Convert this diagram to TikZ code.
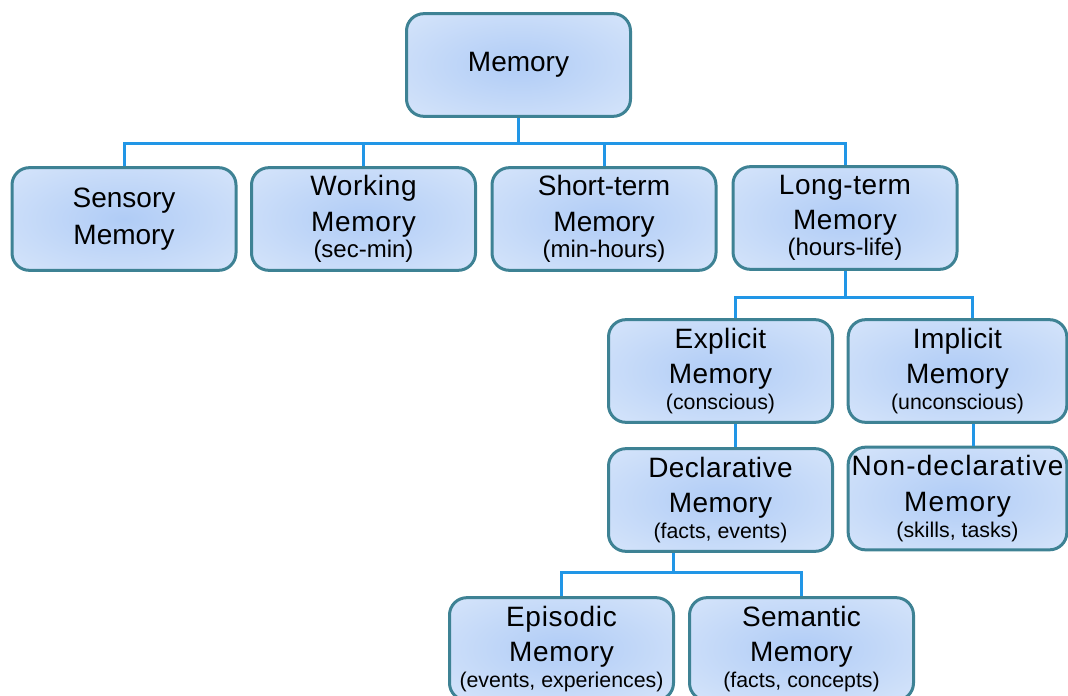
\documentclass[tikz,border=0pt]{standalone}
\usepackage{fontspec}
\setmainfont{Liberation Sans}
\usepackage{xcolor}

\definecolor{memoin}{RGB}{176,204,246}
\definecolor{memoout}{RGB}{228,238,252}
\definecolor{memoedge}{RGB}{62,130,148}
\definecolor{linkblue}{RGB}{33,150,230}
\pgfdeclareradialshading{memoshade}{\pgfpoint{0bp}{0bp}}{color(0bp)=(memoin); color(50bp)=(memoout); color(72bp)=(memoout)}
\newcommand{\subnote}[2][16]{{\fontsize{#1}{19.5}\selectfont\addfontfeature{LetterSpace=0}#2}}

\begin{document}
\begin{tikzpicture}[x=0.75pt, y=-0.75pt,
  memobox/.style={draw=memoedge, line width=2.25pt, rounded corners=13pt, shading=memoshade,
    minimum width=168pt, minimum height=77pt, align=center, inner sep=2pt,
    font=\fontsize{21}{26.5}\selectfont},
  spread/.style={font=\fontsize{21}{26.5}\selectfont\addfontfeature{LetterSpace=#1}},
  memolink/.style={draw=linkblue, line width=2.25pt}
]
  \useasboundingbox (0,0) rectangle (1068,696);

  \node[memobox] (memory) at (518.5,65) {Memory};

  \node[memobox] (sensory) at (124,219) {Sensory\\[1pt]Memory};
  \node[memobox, spread=2.5] (working) at (363.5,219) {Working\\Memory\\[-7pt]\subnote[18]{(sec-min)}};
  \node[memobox] (shortterm) at (604,219) {Short-term\\Memory\\[-7pt]\subnote[18]{(min-hours)}};
  \node[memobox, spread=2] (longterm) at (845,218) {Long-term\\Memory\\[-7pt]\subnote[18]{(hours-life)}};

  \node[memobox, spread=1.5] (explicit) at (720.5,371) {Explicit\\Memory\\[-7pt]\subnote{(conscious)}};
  \node[memobox, minimum width=164pt, spread=1] (implicit) at (957.5,371) {Implicit\\Memory\\[-7pt]\subnote{(unconscious)}};
  \node[memobox, spread=1.5] (declarative) at (720.5,500) {Declarative\\Memory\\[-7pt]\subnote{(facts, events)}};
  \node[memobox, minimum width=164pt, spread=4] (nondeclarative) at (957.5,498.5) {Non-declarative\\Memory\\[-7pt]\subnote{(skills, tasks)}};

  \node[memobox, spread=2.5] (episodic) at (561.5,649) {Episodic\\Memory\\[-7pt]\subnote{(events, experiences)}};
  \node[memobox, spread=1] (semantic) at (801.5,649) {Semantic\\Memory\\[-7pt]\subnote{(facts, concepts)}};

  % top level
  \draw[memolink] (memory.south) -- ++(0,26) -| (sensory.north);
  \draw[memolink] (memory.south) -- ++(0,26) -| (working.north);
  \draw[memolink] (memory.south) -- ++(0,26) -| (shortterm.north);
  \draw[memolink] (memory.south) -- ++(0,26) -| (longterm.north);

  % long-term branch
  \draw[memolink] (longterm.south) -- ++(0,27) -| ([xshift=10.9pt]explicit.north);
  \draw[memolink] (longterm.south) -- ++(0,27) -| ([xshift=11.6pt]implicit.north);
  \draw[memolink] ([xshift=10.9pt]explicit.south) -- ([xshift=10.9pt]declarative.north);
  \draw[memolink] ([xshift=12pt]implicit.south) -- ([xshift=12pt]nondeclarative.north);

  % declarative branch
  \draw[memolink] ([xshift=-34.9pt]declarative.south) -- ++(0,20) -| (episodic.north);
  \draw[memolink] ([xshift=-34.9pt]declarative.south) -- ++(0,20) -| (semantic.north);
\end{tikzpicture}
\end{document}
